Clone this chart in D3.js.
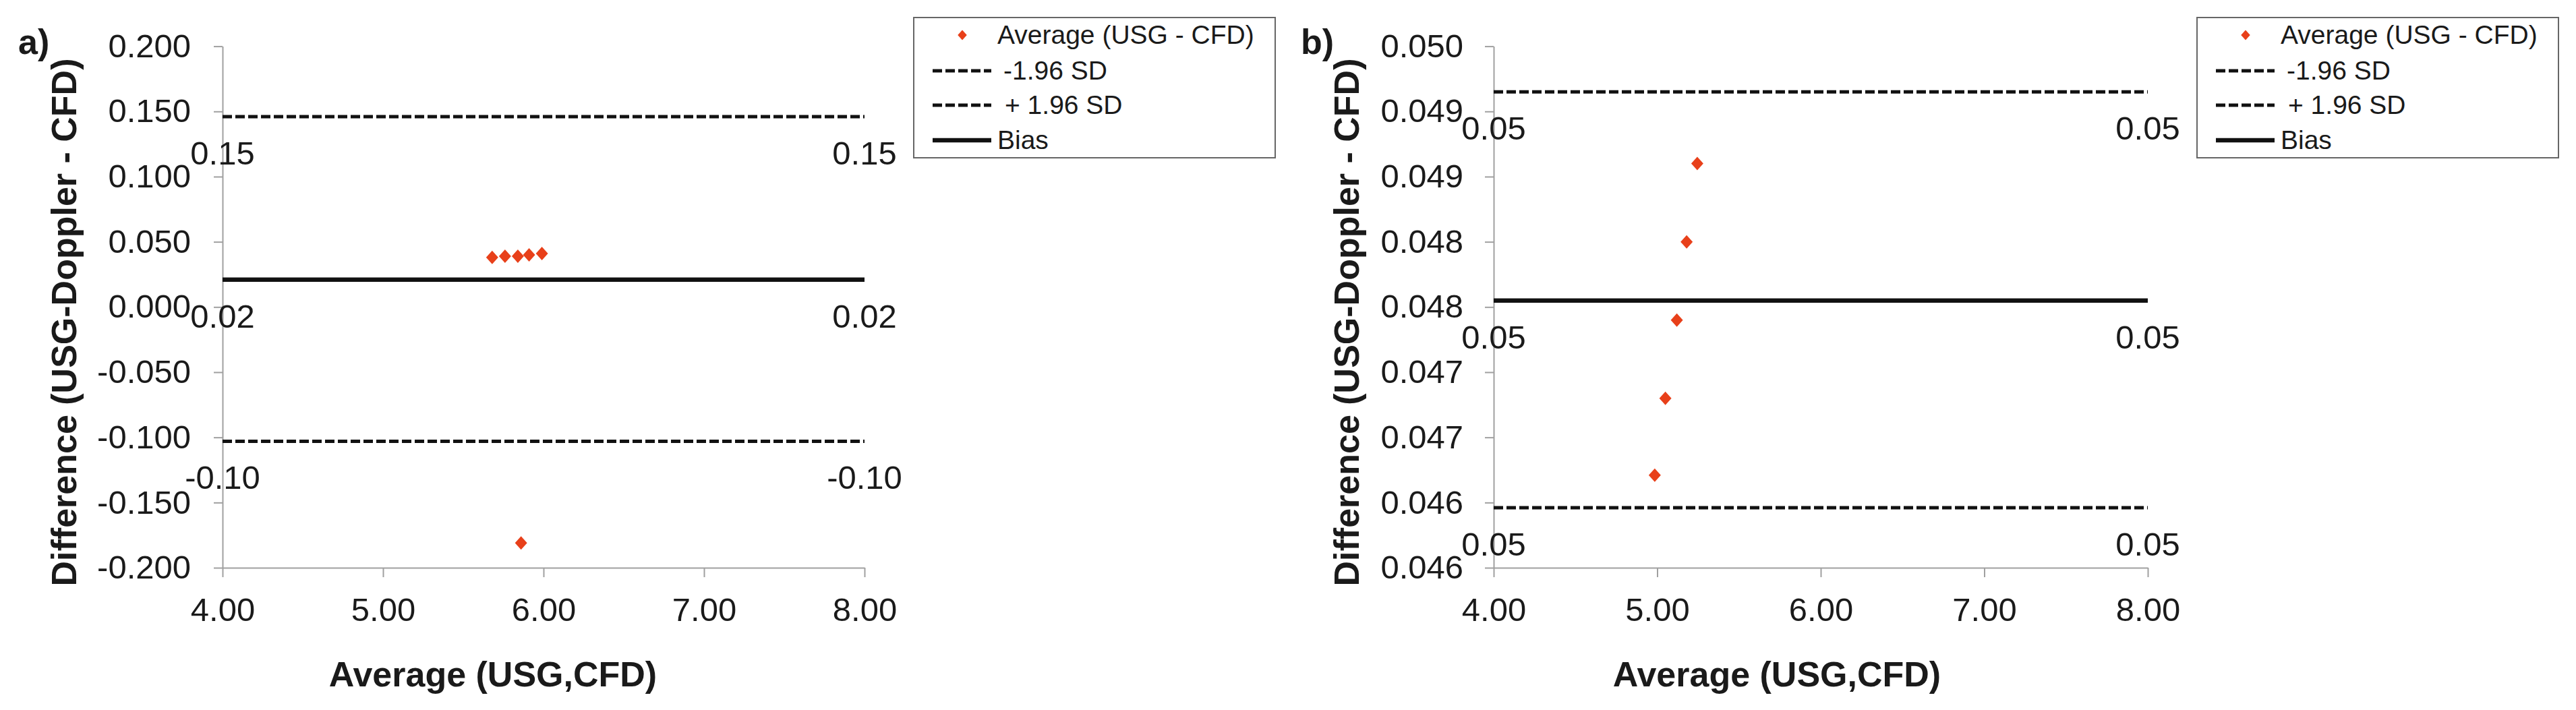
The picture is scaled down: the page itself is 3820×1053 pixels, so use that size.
<!DOCTYPE html>
<html>
<head>
<meta charset="utf-8">
<script src="https://cdn.jsdelivr.net/npm/d3@7"></script>
<style>
body { margin: 0; background: #fff; }
text { font-family: "Liberation Sans", Arial, sans-serif; fill: #1a1a1a; }
</style>
</head>
<body>
<div id="chart"></div>
<script>
// panel a) values
var avgA = [5.68, 5.76, 5.84, 5.91, 5.99, 5.86];
var diffA = [0.038, 0.039, 0.039, 0.040, 0.041, -0.181];
var linesA = [0.146, 0.021, -0.103];   // +1.96 SD, bias, -1.96 SD
var yTicksA = [-0.2, -0.15, -0.1, -0.05, 0, 0.05, 0.1, 0.15, 0.2];
var yLabelsA = ["-0.200", "-0.150", "-0.100", "-0.050", "0.000", "0.050", "0.100", "0.150", "0.200"];

// panel b)
var avgB = [4.985, 5.05, 5.12, 5.18, 5.245];
var diffB = [0.04671, 0.04730, 0.04790, 0.04850, 0.04910];
var linesB = [0.04965, 0.04805, 0.04646];
var yTicksB = [0.046, 0.0465, 0.047, 0.0475, 0.048, 0.0485, 0.049, 0.0495, 0.05];
var yLabelsB = ["0.046", "0.046", "0.047", "0.047", "0.048", "0.048", "0.049", "0.049", "0.050"];

var xTicks = [4, 5, 6, 7, 8];
var xLabels = ["4.00", "5.00", "6.00", "7.00", "8.00"];
var legendLabels = ["Average (USG - CFD)", "-1.96 SD", "+ 1.96 SD", "Bias"];

var svg = d3.select("#chart").append("svg")
    .attr("width", 3820)
    .attr("height", 1053);

var plotTop = 68.6, plotBottom = 842;
var markerColor = "#e8401a";
var diamond = "M0,-10L9,0L0,10L-9,0Z";
var lineDash = ["14,5", null, "14,5"];
var lineWidth = [5, 6.5, 5];

var panels = [
    { tag: "a)", avg: avgA, diff: diffA, lines: linesA, yTicks: yTicksA, yLabels: yLabelsA,
      left: 330, right: 1282, tagX: 27, yTitleX: 113, xTitleX: 731, tickPad: 34, legendX: 1355 },
    { tag: "b)", avg: avgB, diff: diffB, lines: linesB, yTicks: yTicksB, yLabels: yLabelsB,
      left: 2215, right: 3185, tagX: 1929, yTitleX: 2015, xTitleX: 2635, tickPad: 32, legendX: 3258 }
];

panels.forEach(function (p) {
    var x = d3.scaleLinear().domain([4, 8]).range([p.left, p.right]);
    var y = d3.scaleLinear()
        .domain([p.yTicks[0], p.yTicks[p.yTicks.length - 1]])
        .range([plotBottom, plotTop]);

    var g = svg.append("g");

    // axes
    var yAxis = g.append("g")
        .attr("transform", "translate(" + p.left + ",0)")
        .call(d3.axisLeft(y)
            .tickValues(p.yTicks)
            .tickFormat(function (d, i) { return p.yLabels[i]; })
            .tickSizeInner(13).tickSizeOuter(0)
            .tickPadding(p.tickPad));

    var xAxis = g.append("g")
        .attr("transform", "translate(0," + plotBottom + ")")
        .call(d3.axisBottom(x)
            .tickValues(xTicks)
            .tickFormat(function (d, i) { return xLabels[i]; })
            .tickSizeInner(14).tickSizeOuter(0)
            .tickPadding(30));

    [yAxis, xAxis].forEach(function (ax) {
        ax.select(".domain").attr("stroke", "#a0a0a0").attr("stroke-width", 2);
        ax.selectAll(".tick line").attr("stroke", "#a0a0a0").attr("stroke-width", 2);
        ax.selectAll(".tick text")
            .style("font-family", "'Liberation Sans', Arial, sans-serif")
            .style("font-size", "49px")
            .attr("fill", "#1a1a1a");
    });

    // limit lines and bias
    g.selectAll(".limit")
        .data(p.lines)
        .enter().append("line")
        .attr("x1", x(4)).attr("x2", x(8))
        .attr("y1", function (d) { return y(d); })
        .attr("y2", function (d) { return y(d); })
        .attr("stroke", "#111")
        .attr("stroke-width", function (d, i) { return lineWidth[i]; })
        .attr("stroke-dasharray", function (d, i) { return lineDash[i]; });

    // value labels at both ends of every line
    p.lines.forEach(function (v) {
        [4, 8].forEach(function (xv) {
            g.append("text")
                .attr("x", x(xv))
                .attr("y", y(v) + 71)
                .attr("text-anchor", "middle")
                .style("font-size", "49px")
                .text(v.toFixed(2));
        });
    });

    // points
    g.selectAll(".dot")
        .data(p.avg)
        .enter().append("path")
        .attr("d", diamond)
        .attr("fill", markerColor)
        .attr("transform", function (d, i) {
            return "translate(" + x(d) + "," + y(p.diff[i]) + ")";
        });

    // titles
    g.append("text")
        .attr("x", p.tagX).attr("y", 80)
        .style("font-size", "52px").style("font-weight", "bold")
        .text(p.tag);

    g.append("text")
        .attr("transform", "translate(" + p.yTitleX + ",478) rotate(-90)")
        .attr("text-anchor", "middle")
        .style("font-size", "52px").style("font-weight", "bold")
        .text("Difference (USG-Doppler - CFD)");

    g.append("text")
        .attr("x", p.xTitleX).attr("y", 1018)
        .attr("text-anchor", "middle")
        .style("font-size", "52px").style("font-weight", "bold")
        .text("Average (USG,CFD)");

    // legend
    var lg = g.append("g").attr("transform", "translate(" + p.legendX + ",26)");
    lg.append("rect")
        .attr("width", 536).attr("height", 208)
        .attr("fill", "#fff")
        .attr("stroke", "#666").attr("stroke-width", 2);

    var rowY = [26, 79, 130, 182];
    var textX = [124, 133, 135, 124];
    lg.append("path")
        .attr("d", diamond)
        .attr("fill", markerColor)
        .attr("transform", "translate(72," + rowY[0] + ") scale(0.75)");
    [1, 2, 3].forEach(function (k) {
        lg.append("line")
            .attr("x1", 28).attr("x2", 115)
            .attr("y1", rowY[k]).attr("y2", rowY[k])
            .attr("stroke", "#111")
            .attr("stroke-width", k === 3 ? 6.5 : 5)
            .attr("stroke-dasharray", k === 3 ? null : "14,5");
    });
    legendLabels.forEach(function (t, k) {
        lg.append("text")
            .attr("x", textX[k]).attr("y", rowY[k] + 13)
            .style("font-size", "39px")
            .text(t);
    });
});
</script>
</body>
</html>
